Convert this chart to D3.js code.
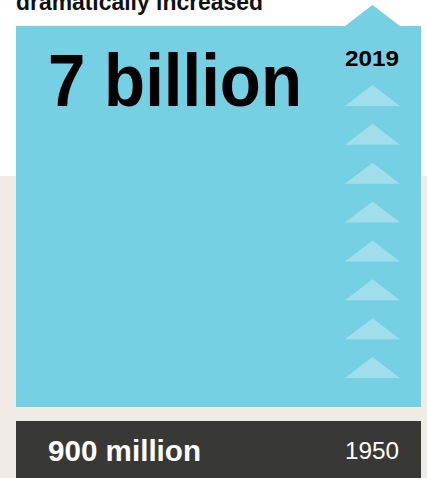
<!DOCTYPE html>
<html>
<head>
<meta charset="utf-8">
<script src="https://cdn.jsdelivr.net/npm/d3@7"></script>
<style>
  body { margin: 0; background: #fff; overflow: hidden; }
  text { font-family: "Liberation Sans", Arial, sans-serif; }
</style>
</head>
<body>
<script>
/* ------------------------------- Chart data ------------------------------- */
const years = [1950, 2019];
const populations = [900, 7000]; // millions
const labels = ["900 million", "7 billion"];
const title = "dramatically increased";
const arrowCount = 8;

/* ------------------------------ Window layout ----------------------------- */
const width = 427;
const height = 478;
const left = 16;
const right = 421;
const blueTop = 26;
const blueBottom = 407;
const darkTop = 421;
const colors = { blue: "#75d0e3", arrow: "#a1deec", dark: "#383936", beige: "#f0ece5" };

const svg = d3.select("body").append("svg").attr("width", width).attr("height", height);

// backgrounds
svg.append("rect").attr("width", width).attr("height", height).attr("fill", colors.beige);
svg.append("rect").attr("width", width).attr("height", 176).attr("fill", "#fff");

// title (cut off at the top, as in the source)
svg.append("text")
    .attr("x", left).attr("y", 9.5)
    .attr("font-size", 23).attr("font-weight", 700)
    .attr("textLength", 247).attr("lengthAdjust", "spacingAndGlyphs")
    .attr("fill", "#111")
    .text(title);

// scale for bar heights (millions -> px)
const h = d3.scaleLinear().domain([0, populations[1]]).range([0, blueBottom - blueTop]);

// 2019 bar
svg.append("rect")
    .attr("x", left).attr("y", blueBottom - h(populations[1]))
    .attr("width", right - left).attr("height", h(populations[1]))
    .attr("fill", colors.blue);

// 1950 bar (needs a minimum height to hold the label)
const darkH = Math.max(h(populations[0]), 70);
svg.append("rect")
    .attr("x", left).attr("y", darkTop)
    .attr("width", right - left).attr("height", darkH)
    .attr("fill", colors.dark);

/* ------------------------------ Arrow column ------------------------------ */
const ax = d3.scaleLinear().domain([0, 1]).range([345, 400]);
const triH = 21;
const tri = (y0) => `M${ax(0)},${y0 + triH}L${ax(0.5)},${y0}L${ax(1)},${y0 + triH}Z`;

// notch on top of the blue bar
svg.append("path").attr("d", tri(blueBottom - h(populations[1]) - triH)).attr("fill", colors.blue);

const ay = d3.scalePoint().domain(d3.range(arrowCount)).range([85, 357]);
svg.selectAll(".arrow").data(d3.range(arrowCount)).enter().append("path")
    .attr("class", "arrow")
    .attr("d", d => tri(ay(d)))
    .attr("fill", colors.arrow);

/* --------------------------------- Labels --------------------------------- */
svg.append("text")
    .attr("x", 48).attr("y", 106)
    .attr("font-size", 75).attr("font-weight", 700)
    .attr("textLength", 254).attr("lengthAdjust", "spacingAndGlyphs")
    .attr("fill", "#000")
    .text(labels[1]);

svg.append("text")
    .attr("x", 345).attr("y", 66)
    .attr("font-size", 22).attr("font-weight", 700)
    .attr("textLength", 54).attr("lengthAdjust", "spacingAndGlyphs")
    .attr("fill", "#000")
    .text(years[1]);

svg.append("text")
    .attr("x", 48).attr("y", 461)
    .attr("font-size", 30).attr("font-weight", 700)
    .attr("textLength", 153).attr("lengthAdjust", "spacingAndGlyphs")
    .attr("fill", "#fff")
    .text(labels[0]);

svg.append("text")
    .attr("x", 345).attr("y", 459)
    .attr("font-size", 24)
    .attr("textLength", 54).attr("lengthAdjust", "spacingAndGlyphs")
    .attr("fill", "#fff")
    .text(years[0]);
</script>
</body>
</html>
